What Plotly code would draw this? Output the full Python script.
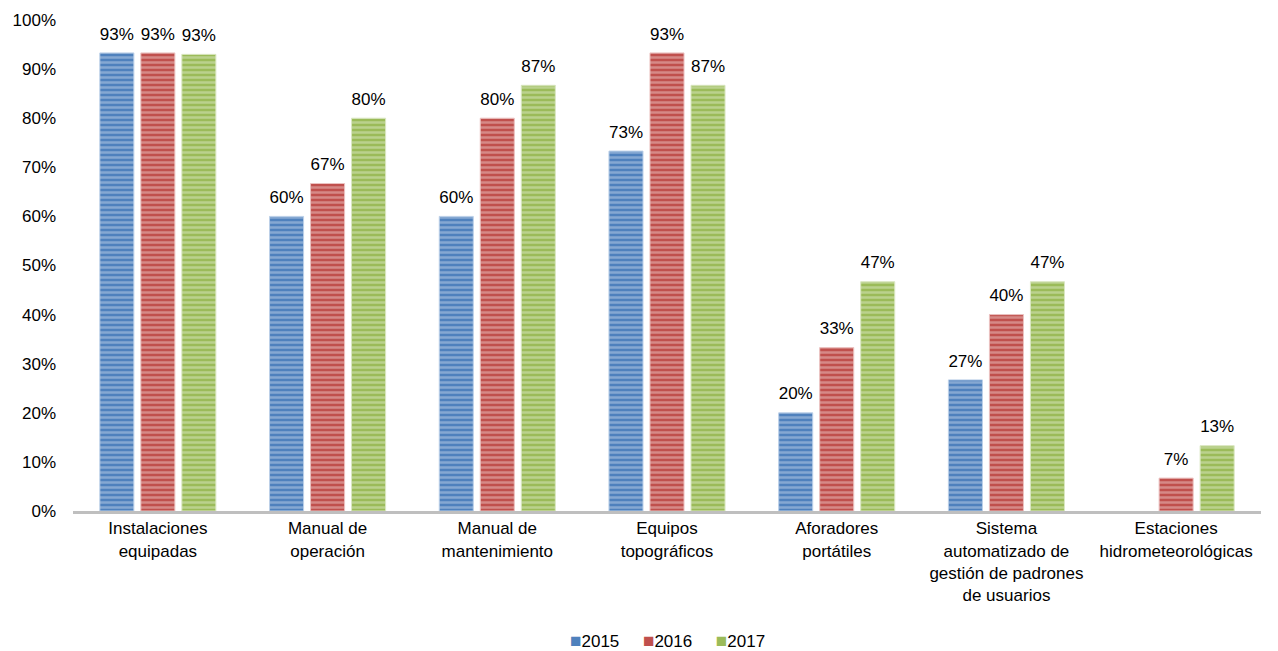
import plotly.graph_objects as go

categories = [
    "Instalaciones<br>equipadas",
    "Manual de<br>operación",
    "Manual de<br>mantenimiento",
    "Equipos<br>topográficos",
    "Aforadores<br>portátiles",
    "Sistema<br>automatizado de<br>gestión de padrones<br>de usuarios",
    "Estaciones<br>hidrometeorológicas",
]

v2015 = [0.933, 0.60, 0.60, 0.733, 0.20, 0.267, None]
v2016 = [0.933, 0.667, 0.80, 0.933, 0.333, 0.40, 0.067]
v2017 = [0.930, 0.80, 0.867, 0.867, 0.467, 0.467, 0.133]

series = [
    ("2015", v2015, "#4f81bd", "#bcd0e8"),
    ("2016", v2016, "#c0504d", "#ebc2c1"),
    ("2017", v2017, "#9bbb59", "#dae7c2"),
]

FONT = "Liberation Sans, Arial, sans-serif"
FS = 17
GAP = 0.275

fig = go.Figure()
for i, (name, vals, base, light) in enumerate(series):
    # striped bars
    fig.add_trace(go.Bar(
        name=name,
        x=categories,
        y=vals,
        offsetgroup=str(i),
        showlegend=False,
        marker=dict(
            color=base,
            line=dict(width=1, color=light),
            pattern=dict(shape="-", fgcolor=light, bgcolor=base,
                         size=5, solidity=0.5, fillmode="overlay"),
        ),
        hoverinfo="x+y",
    ))
for i, (name, vals, base, light) in enumerate(series):
    # value labels above each bar
    fig.add_trace(go.Scatter(
        x=categories,
        y=vals,
        offsetgroup=str(i),
        mode="markers+text",
        marker=dict(size=13, opacity=0),
        text=[f"{v:.0%}" if v is not None else "" for v in vals],
        textposition="top center",
        textfont=dict(color="#000000", size=FS, family=FONT),
        cliponaxis=False,
        showlegend=False,
        hoverinfo="skip",
    ))

# compact key below the plot: coloured square followed by the year
key = "&nbsp;&nbsp;&nbsp;&nbsp;&nbsp;".join(
    f"<span style='color:{base};font-size:19px'>■</span>{name}"
    for name, _, base, _ in series
)
fig.add_annotation(
    text=key, xref="paper", yref="paper", x=0.5, y=-0.263,
    xanchor="center", yanchor="middle", showarrow=False,
    font=dict(family=FONT, size=FS, color="#000000"),
)

fig.update_layout(
    width=1278, height=651,
    margin=dict(l=73, r=17, t=20, b=140, autoexpand=False),
    paper_bgcolor="white", plot_bgcolor="white",
    barmode="group", bargap=GAP, bargroupgap=0.17,
    scattermode="group", scattergap=GAP,
    showlegend=False,
    font=dict(family=FONT, size=FS, color="#000000"),
    yaxis=dict(range=[0, 1.0], dtick=0.1, tickformat=".0%",
               showgrid=False, zeroline=False, showline=False,
               ticks="", ticklabelstandoff=16, tickfont=dict(size=FS)),
    xaxis=dict(showline=True, linecolor="#bfbfbf", linewidth=3,
               ticks="", automargin=False, tickfont=dict(size=FS)),
)

fig.write_html("out.html")
